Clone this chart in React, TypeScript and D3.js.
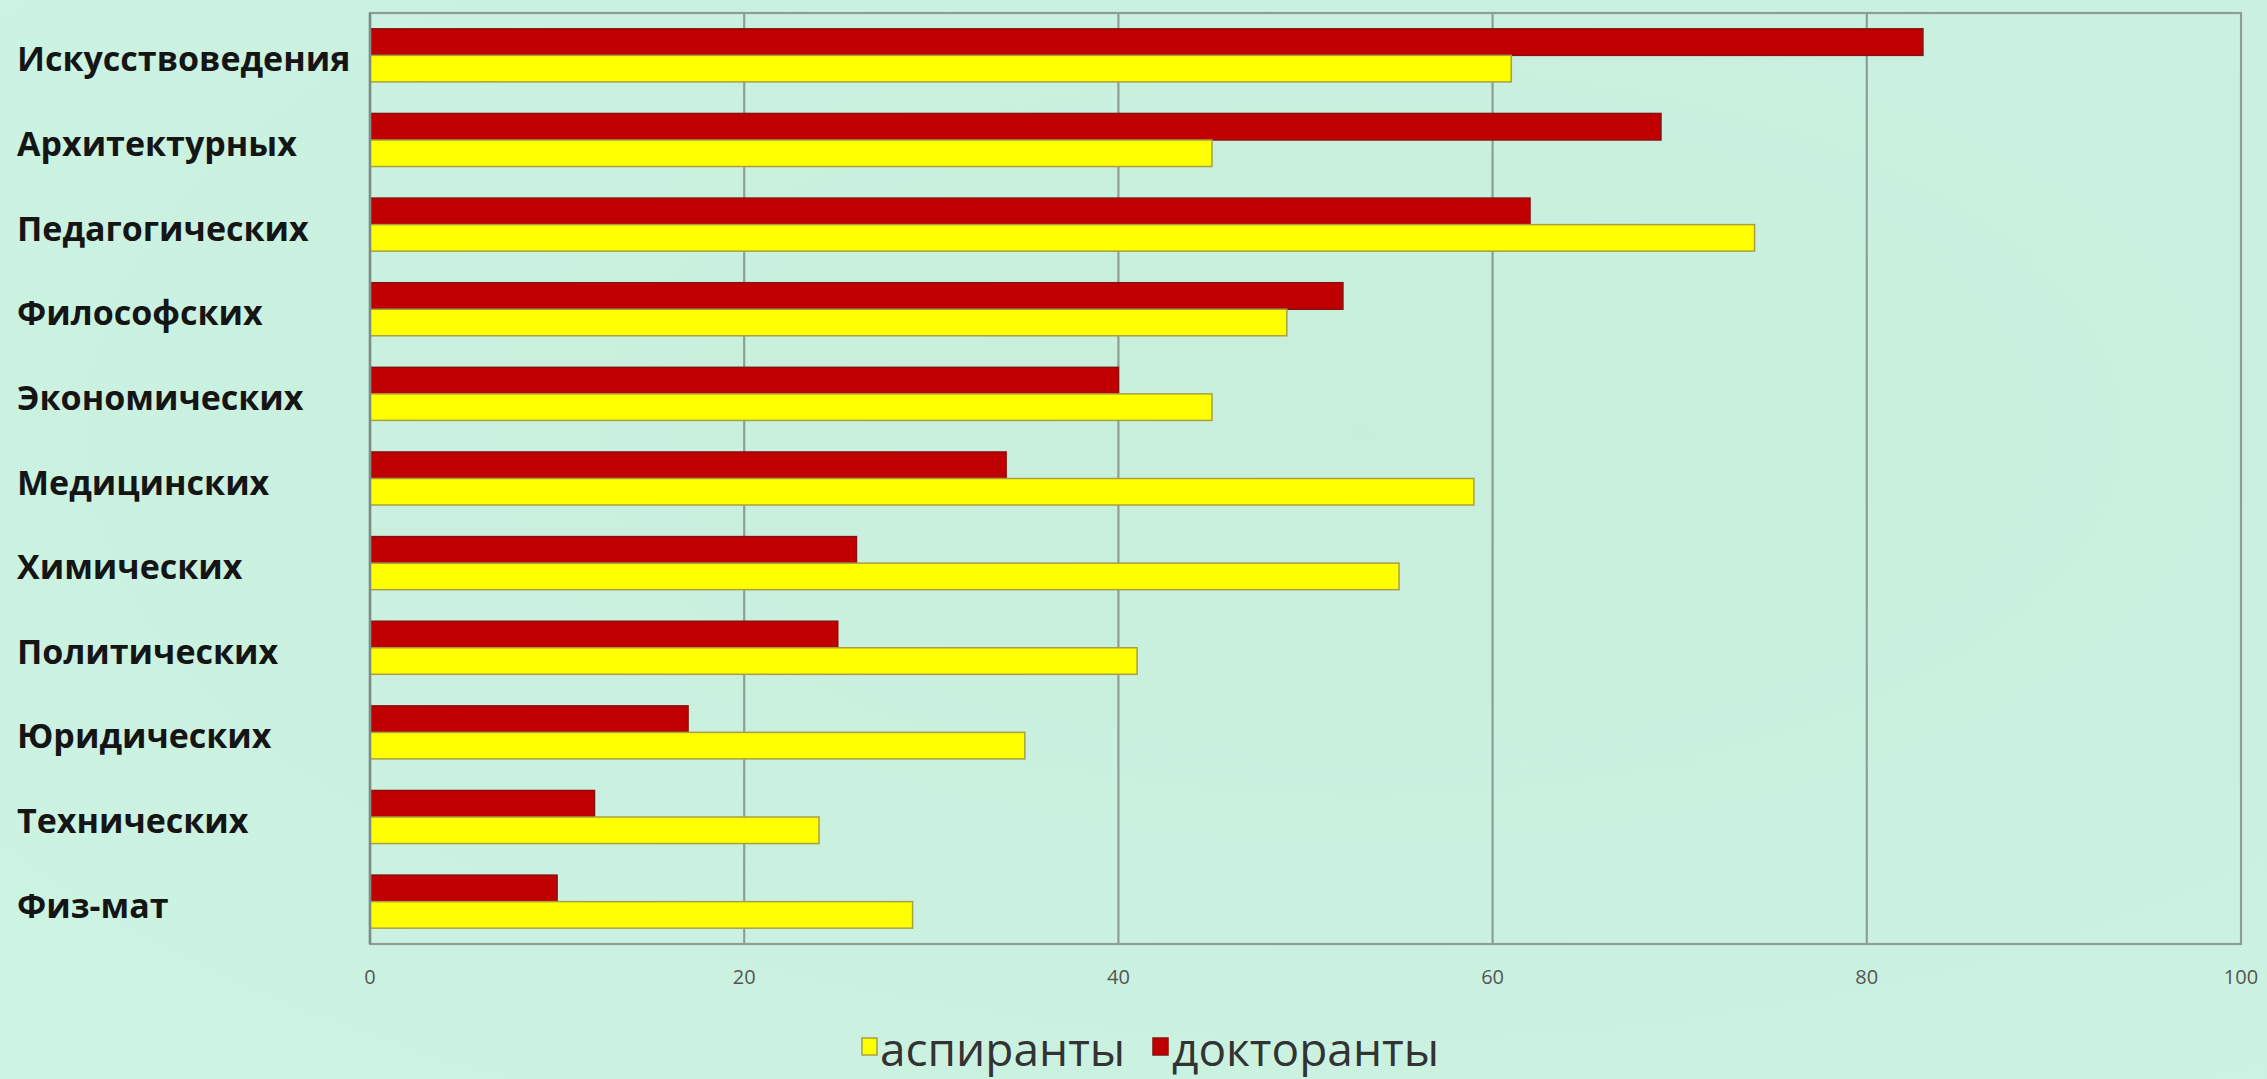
import React from "react";
import * as d3 from "d3";

const categories = [
  "Искусствоведения",
  "Архитектурных",
  "Педагогических",
  "Философских",
  "Экономических",
  "Медицинских",
  "Химических",
  "Политических",
  "Юридических",
  "Технических",
  "Физ-мат",
];
const doktoranty = [83, 69, 62, 52, 40, 34, 26, 25, 17, 12, 10];
const aspiranty = [61, 45, 74, 49, 45, 59, 55, 41, 35, 24, 29];
const seriesNames = ["докторанты", "аспиранты"];
const xTicks = [0, 20, 40, 60, 80, 100];

const W = 2267;
const H = 1079;
const left = 370;
const right = 2241;
const top = 13;
const bottom = 944;

export default function App() {
  const x = d3.scaleLinear().domain([0, 100]).range([left, right]);
  const y = d3
    .scaleBand<string>()
    .domain(categories)
    .range([top, bottom])
    .paddingInner(0.373)
    .paddingOuter(0.187);
  const sub = d3.scaleBand<string>().domain(seriesNames).range([0, y.bandwidth()]);
  const colors: Record<string, { fill: string; stroke: string }> = {
    докторанты: { fill: "#c00000", stroke: "#8a1010" },
    аспиранты: { fill: "#ffff00", stroke: "#a8a040" },
  };
  const values: Record<string, number[]> = {
    докторанты: doktoranty,
    аспиранты: aspiranty,
  };
  const grid = "#8e9e96";

  return (
    <svg
      width={W}
      height={H}
      style={{ position: "absolute", left: 0, top: 0, display: "block" }}
    >
      <defs>
        <radialGradient id="bg" cx="0.6" cy="0.4" r="0.8">
          <stop offset="0" stopColor="#c8eedc" />
          <stop offset="0.6" stopColor="#caf1df" />
          <stop offset="1" stopColor="#cdf4e2" />
        </radialGradient>
      </defs>
      <rect x={0} y={0} width={W} height={H} fill="url(#bg)" />

      {/* gridlines */}
      {xTicks.slice(1, -1).map((t) => (
        <line key={t} x1={x(t)} x2={x(t)} y1={top} y2={bottom} stroke={grid} strokeWidth={2.2} />
      ))}

      {/* bars */}
      {categories.map((c, i) =>
        seriesNames.map((s) => (
          <rect
            key={c + s}
            x={x(0)}
            y={(y(c) as number) + (sub(s) as number)}
            width={x(values[s][i]) - x(0)}
            height={sub.bandwidth()}
            fill={colors[s].fill}
            stroke={colors[s].stroke}
            strokeWidth={1.5}
          />
        ))
      )}

      {/* frame */}
      <rect
        x={left}
        y={top}
        width={right - left}
        height={bottom - top}
        fill="none"
        stroke={grid}
        strokeWidth={2.2}
      />
      <line x1={left} x2={left} y1={top} y2={bottom} stroke="#7d8c84" strokeWidth={2.5} />

      {/* category labels */}
      {categories.map((c) => (
        <text
          key={c}
          x={17}
          y={(y(c) as number) + y.bandwidth() / 2 + 16}
          fontFamily="'Open Sans', sans-serif"
          fontWeight={700}
          fontSize={34}
          fill="#151515"
        >
          {c}
        </text>
      ))}

      {/* tick labels */}
      {xTicks.map((t) => (
        <text
          key={t}
          x={x(t)}
          y={984}
          textAnchor="middle"
          fontFamily="'Liberation Sans Narrow', 'Open Sans', sans-serif"
          fontSize={20}
          fill="#555"
        >
          {t}
        </text>
      ))}

      {/* legend */}
      <rect x={862} y={1038} width={15} height={17} fill="#ffff00" stroke="#a8a040" strokeWidth={1.5} />
      <text x={880} y={1066} fontFamily="'Open Sans', sans-serif" fontSize={46} fill="#333">
        аспиранты
      </text>
      <rect x={1153} y={1038} width={15} height={17} fill="#c00000" stroke="#8a1010" strokeWidth={1.5} />
      <text x={1172} y={1066} fontFamily="'Open Sans', sans-serif" fontSize={46} fill="#333">
        докторанты
      </text>
    </svg>
  );
}
